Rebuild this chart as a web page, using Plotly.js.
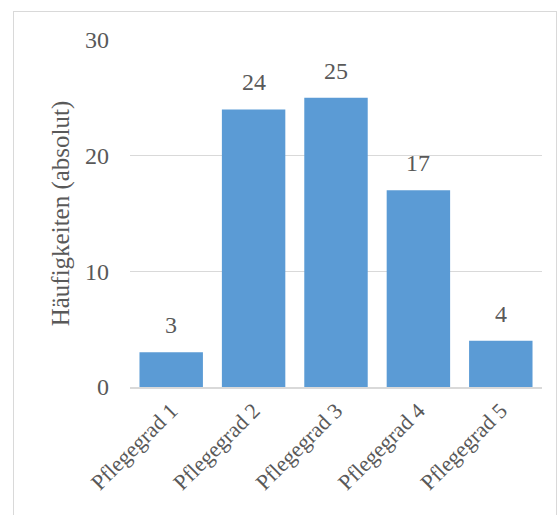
<!DOCTYPE html>
<html>
<head>
<meta charset="utf-8">
<script src="https://cdn.plot.ly/plotly-3.0.1.min.js"></script>
<style>
  html, body { margin: 0; padding: 0; background: #fff; }
  #chart { position: absolute; left: 0; top: 0; width: 558px; height: 515px; }
  #frame { position: absolute; left: 13px; top: 11px; width: 544px; height: 520px;
           border: 1px solid #d9d9d9; box-sizing: border-box; pointer-events: none; }
</style>
</head>
<body>
<div id="chart"></div>
<div id="frame"></div>
<script>
// Pflegegrad distribution (absolute counts)
const categories = ["Pflegegrad 1", "Pflegegrad 2", "Pflegegrad 3", "Pflegegrad 4", "Pflegegrad 5"];
const counts = [3, 24, 25, 17, 4];
const yTicks = [0, 10, 20, 30];

const font = "'Liberation Serif', 'Times New Roman', serif";
const textColor = "#595959";

const trace = {
  type: "bar",
  x: categories,
  y: counts,
  marker: { color: "#5b9bd5", line: { width: 0 } },
  hoverinfo: "skip"
};

// value labels sit a little above each bar
const valueLabels = categories.map((c, i) => ({
  x: c,
  y: counts[i],
  xref: "x",
  yref: "y",
  text: String(counts[i]),
  showarrow: false,
  yanchor: "bottom",
  yshift: 12,
  font: { family: font, size: 24, color: textColor }
}));

const layout = {
  width: 558,
  height: 515,
  margin: { l: 130, r: 16, t: 40, b: 128 },
  paper_bgcolor: "#ffffff",
  plot_bgcolor: "#ffffff",
  bargap: 0.23,
  showlegend: false,
  font: { family: font, color: textColor },
  annotations: valueLabels,
  xaxis: {
    type: "category",
    tickangle: -45,
    tickfont: { family: font, size: 22, color: textColor },
    showgrid: false,
    showline: true,
    linecolor: "#d9d9d9",
    linewidth: 2,
    ticks: "",
    zeroline: false
  },
  yaxis: {
    range: [0, 30],
    tickvals: yTicks,
    ticktext: yTicks.map(String),
    tickfont: { family: font, size: 24, color: textColor },
    showgrid: true,
    gridcolor: "#d9d9d9",
    gridwidth: 1,
    zeroline: false,
    showline: false,
    ticks: "",
    ticklen: 0,
    ticklabelstandoff: 20,
    title: { text: "Häufigkeiten (absolut)", font: { family: font, size: 25, color: textColor }, standoff: 8 }
  }
};

Plotly.newPlot("chart", [trace], layout, { displayModeBar: false, staticPlot: true });
</script>
</body>
</html>
